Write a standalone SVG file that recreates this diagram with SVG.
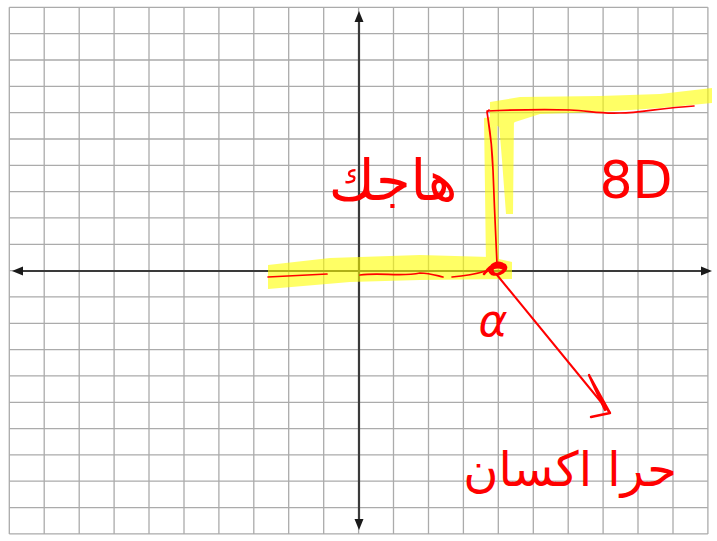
<svg xmlns="http://www.w3.org/2000/svg" width="717" height="541" viewBox="0 0 717 541">
<style>
.grid{stroke:#ababab;stroke-width:1.3;fill:none}
.axis{stroke:#3a3a3a;stroke-width:2.2;fill:none}
.head{fill:#1a1a1a}
.hl{fill:#ffff00}
.ink{stroke:#ff0000;stroke-width:1.7;fill:none;stroke-linecap:round;stroke-linejoin:round}
.inkt{fill:#ff0000;font-family:"DejaVu Sans","Liberation Sans",sans-serif}
</style>
<rect width="717" height="541" fill="#ffffff"/>
<g id="grid">
<path class="grid" d="M9.3 7.3V533.9M44.2 7.3V533.9M79.2 7.3V533.9M114.1 7.3V533.9M149 7.3V533.9M184 7.3V533.9M218.9 7.3V533.9M253.8 7.3V533.9M288.7 7.3V533.9M323.7 7.3V533.9M358.6 7.3V533.9M393.5 7.3V533.9M428.5 7.3V533.9M463.4 7.3V533.9M498.3 7.3V533.9M533.3 7.3V533.9M568.2 7.3V533.9M603.1 7.3V533.9M638 7.3V533.9M673 7.3V533.9M707.9 7.3V533.9"/>
<path class="grid" d="M9.3 7.3H707.9M9.3 33.6H707.9M9.3 60H707.9M9.3 86.3H707.9M9.3 112.6H707.9M9.3 139H707.9M9.3 165.3H707.9M9.3 191.6H707.9M9.3 217.9H707.9M9.3 244.3H707.9M9.3 270.6H707.9M9.3 296.9H707.9M9.3 323.3H707.9M9.3 349.6H707.9M9.3 375.9H707.9M9.3 402.3H707.9M9.3 428.6H707.9M9.3 454.9H707.9M9.3 481.2H707.9M9.3 507.6H707.9M9.3 533.9H707.9"/>
</g>
<g id="axes">
<path class="axis" d="M20 271H704M359 20V522"/>
<path class="head" d="M12 271L23 266.5L23 275.5Z"/>
<path class="head" d="M712 271L701 266.5L701 275.5Z"/>
<path class="head" d="M359 11L354.5 22L363.5 22Z"/>
<path class="head" d="M359 530L354.5 519L363.5 519Z"/>
</g>
<g id="highlight" opacity="0.6">
<path class="hl" d="M268 265L330 258L420 255L490 257L512 262L512 279L420 280L350 282L268 289Z"/>
<path class="hl" d="M484 118L497 116L498 180L499 265L486 266L485 190Z"/>
<path class="hl" d="M498 112L514 116L513 214L506 214L502 160Z"/>
<path class="hl" d="M490 102L520 97L600 96L660 94L712 88L712 103L660 108L600 112L540 114L515 122L505 130L490 122Z"/>
</g>
<g id="curve">
<path class="ink" d="M268 277C290 276 310 275 327 274M360 275C380 272 400 277 420 273C430 273 438 276 443 277M452 277C465 276 476 274 486 271"/>
<path class="ink" style="stroke-width:2.6" d="M486 272C490 264 500 262 505 265C509 270 500 276 492 274C486 271 492 262 500 263C507 264 505 272 498 274C493 275 490 270 495 266C500 263 506 267 503 271M484 274C488 268 498 266 502 268"/>
<path class="ink" d="M497 264C496 240 494 200 493 170C492 140 489 125 487 112L489 110"/>
<path class="ink" d="M487 111C510 110 540 109 570 110C590 111 600 114 620 113C640 113 660 108 694 106"/>
</g>
<g id="connectors">
<path class="ink" style="stroke-width:2" d="M497 275L610 413"/>
<path class="ink" style="stroke-width:2.4" d="M610 413L589 375L593 384L605 410M610 413L591 417"/>
</g>
<g id="label-alpha">
<text class="inkt" x="493" y="336" font-size="44" text-anchor="middle" font-style="italic">α</text>
</g>
<g id="label-8D">
<text class="inkt" x="636" y="198" font-size="52" text-anchor="middle" font-family="Liberation Sans, sans-serif">8D</text>
</g>
<g id="label-top">
<text class="inkt" x="393" y="200" font-size="56" text-anchor="middle">هاجك</text>
</g>
<g id="label-bottom">
<text class="inkt" x="570" y="486" font-size="48" text-anchor="middle">حرا اكسان</text>
</g>
</svg>
